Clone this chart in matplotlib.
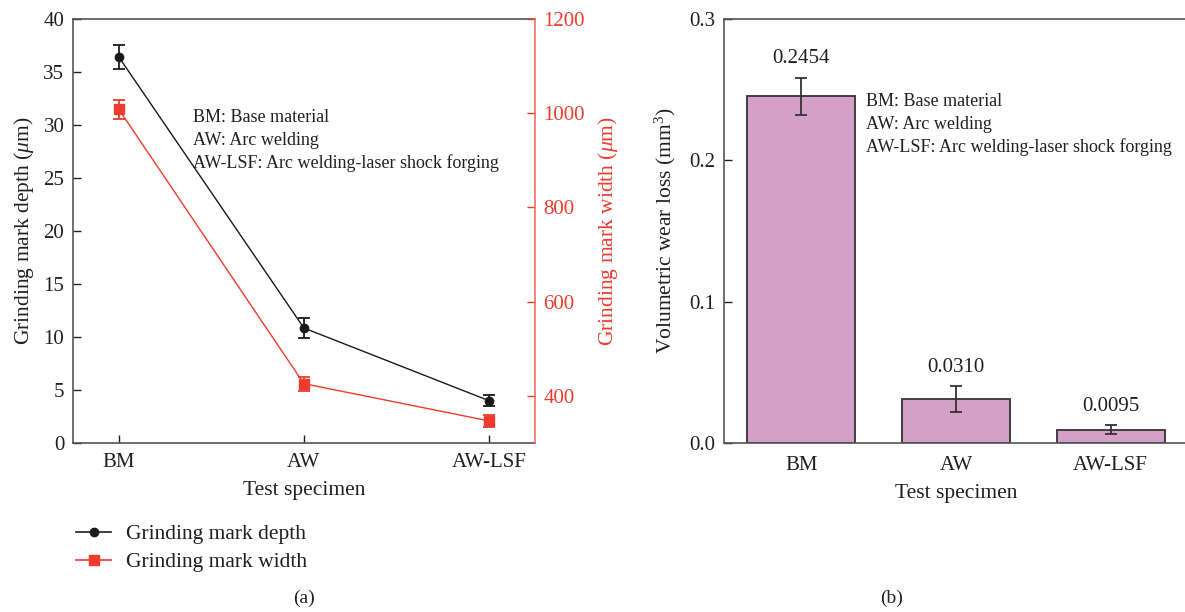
import numpy as np
import matplotlib
matplotlib.use("Agg")
import matplotlib.pyplot as plt
from matplotlib.lines import Line2D

plt.rcParams['font.family'] = ['Liberation Serif', 'DejaVu Serif']
plt.rcParams['mathtext.fontset'] = 'custom'
plt.rcParams['mathtext.rm'] = 'Liberation Serif'
plt.rcParams['mathtext.it'] = 'Liberation Serif:italic'

# data
specimens = ["BM", "AW", "AW-LSF"]
depth = [36.4, 10.85, 4.0]
depth_err = [1.1, 0.9, 0.5]
width = [1008, 426, 347]
width_err = [20, 15, 12]
wear = [0.2454, 0.0310, 0.0095]
wear_err = [0.013, 0.009, 0.003]
wear_labels = ["0.2454", "0.0310", "0.0095"]
notes = ["BM: Base material", "AW: Arc welding", "AW-LSF: Arc welding-laser shock forging"]

txt = '#231f20'
red = '#ee3b2b'
spine_red = '#f07060'
bar_col = '#d4a0c8'

W, H = 1185, 612
fig = plt.figure(figsize=(W/100, H/100), dpi=100)

def frac(x0, y0, x1, y1):
    return [x0/W, 1-y1/H, (x1-x0)/W, (y1-y0)/H]

x = np.arange(len(specimens))

# ---- (a) ----
ax = fig.add_axes(frac(72.7, 19, 535, 443))
ax2 = ax.twinx()
ln1, = ax.plot(x, depth, '-o', color='#1a1a1a', lw=1.0, ms=6, zorder=3)
ax.errorbar(x, depth, yerr=depth_err, fmt='none', ecolor='#1a1a1a', elinewidth=1.3, capsize=4, capthick=1.3)
ln2, = ax2.plot(x, width, '-s', color=red, lw=1.0, ms=6.5, zorder=3)
ax2.errorbar(x, width, yerr=width_err, fmt='none', ecolor=red, elinewidth=1.3, capsize=4, capthick=1.3)

ax.set_xlim(-0.25, 2.25)
ax.set_ylim(0, 40)
ax.set_yticks(range(0, 41, 5))
ax2.set_ylim(300, 1200)
ax2.set_yticks([400, 600, 800, 1000, 1200])
ax.set_xticks(x)
ax.set_xticklabels(specimens)
ax.tick_params(direction='in', length=6, width=1.0, labelsize=15, colors=txt, pad=6)
ax.tick_params(axis='x', pad=7)
ax2.tick_params(direction='in', length=6, width=1.0, labelsize=15, colors=red, pad=6)
for s in ['left', 'bottom', 'top']:
    ax.spines[s].set_color('#555555')
    ax.spines[s].set_linewidth(1.2)
ax2.spines['right'].set_color(spine_red)
ax2.spines['right'].set_linewidth(1.2)
ax2.spines['top'].set_visible(False)
ax.spines['right'].set_visible(False)
ax2.spines['left'].set_visible(False)
ax2.spines['bottom'].set_visible(False)
ax.set_ylabel(r'Grinding mark depth ($\mathit{\mu}$m)', fontsize=15.5, color=txt, labelpad=5)
ax2.set_ylabel(r'Grinding mark width ($\mathit{\mu}$m)', fontsize=15.5, color=red, labelpad=8)
ax.set_xlabel('Test specimen', fontsize=15.5, color=txt, labelpad=7)
for i, n in enumerate(notes):
    fig.text(193/W, 1-(118+22.5*i)/H, n, fontsize=13, color=txt, va='center', ha='left')

h1 = Line2D([], [], color='#1a1a1a', lw=1.2, marker='o', ms=6)
h2 = Line2D([], [], color=red, lw=1.2, marker='s', ms=6.5)
fig.legend([h1, h2], ["Grinding mark depth", "Grinding mark width"],
           loc='upper left', bbox_to_anchor=(57/W, 1-505/H), frameon=False,
           fontsize=15.5, handlelength=1.6, labelspacing=0.35, handletextpad=0.7,
           labelcolor=txt)
fig.text(304/W, 1-598/H, '(a)', fontsize=14, color=txt, ha='center', va='center')

# ---- (b) ----
bx = fig.add_axes(frac(724, 19, 1188, 443))
bx.bar(x, wear, width=0.7, color=bar_col, edgecolor='#333333', linewidth=1.3, zorder=2)
bx.errorbar(x, wear, yerr=wear_err, fmt='none', ecolor='#333333', elinewidth=1.3, capsize=4, capthick=1.3, zorder=3)
for i in range(len(x)):
    bx.annotate(wear_labels[i], (x[i], wear[i] + wear_err[i]), xytext=(0, 7),
                textcoords='offset points', ha='center', va='bottom', fontsize=15, color=txt)
bx.set_xlim(-0.5, 2.5)
bx.set_ylim(0, 0.3)
bx.set_yticks([0.0, 0.1, 0.2, 0.3])
bx.set_yticklabels(['0.0', '0.1', '0.2', '0.3'])
bx.set_xticks(x)
bx.set_xticklabels(specimens)
bx.tick_params(axis='y', direction='in', length=6, width=1.0, labelsize=15, colors=txt, pad=6)
bx.tick_params(axis='x', length=0, labelsize=15, colors=txt, pad=9)
for s in bx.spines.values():
    s.set_color('#555555')
    s.set_linewidth(1.2)
bx.set_ylabel('Volumetric wear loss (mm$^3$)', fontsize=15.5, color=txt, labelpad=8)
bx.set_xlabel('Test specimen', fontsize=15.5, color=txt, labelpad=7)
for i, n in enumerate(notes):
    fig.text(866/W, 1-(102+22.5*i)/H, n, fontsize=13, color=txt, va='center', ha='left')
fig.text(892/W, 1-598/H, '(b)', fontsize=14, color=txt, ha='center', va='center')

fig.savefig('out.png', dpi=100)
